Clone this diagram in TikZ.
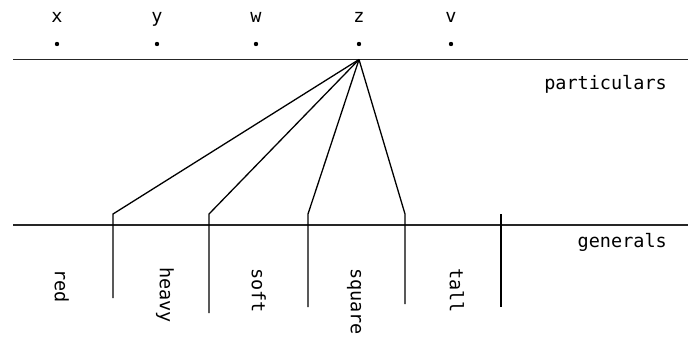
\documentclass[tikz,border=0pt]{standalone}
\usepackage{fontspec}
\setmonofont{DejaVu Sans Mono}
\begin{document}
\begin{tikzpicture}[x=1pt,y=-1pt,
  lab/.style={font=\ttfamily\fontsize{18.5}{22}\selectfont, inner sep=0pt, text=black},
  dotnode/.style={circle,fill=black,inner sep=0pt,minimum size=4.4pt},
  hline/.style={line width=1.7pt, draw=black!85},
  conn/.style={line width=1.3pt, draw=black},
  vlab/.style={lab,rotate=-90,anchor=mid west}]
\useasboundingbox (0,0) rectangle (688,338);
% particulars
\node[lab,anchor=base] (lx) at (57,22) {x};
\node[lab,anchor=base] (ly) at (157,22) {y};
\node[lab,anchor=base] (lw) at (256,22) {w};
\node[lab,anchor=base] (lz) at (359,22) {z};
\node[lab,anchor=base] (lv) at (451,22) {v};
\node[dotnode] (dx) at (57,44) {};
\node[dotnode] (dy) at (157,44) {};
\node[dotnode] (dw) at (256,44) {};
\node[dotnode] (dz) at (359,44) {};
\node[dotnode] (dv) at (451,44) {};
% lines
\coordinate (tl) at (13,59.5);
\coordinate (tr) at (688,59.5);
\coordinate (bl) at (13,225);
\coordinate (br) at (688,225);
\draw[hline] (tl) -- (tr);
\draw[hline] (bl) -- (br);
\node[lab,anchor=base east] (part) at (667,89) {particulars};
\node[lab,anchor=base east] (gen) at (667,247) {generals};
% vertex and kinks
\coordinate (vz) at (359,59.5);
\coordinate (k1) at (113,214);
\coordinate (k2) at (209,214);
\coordinate (k3) at (308,214);
\coordinate (k4) at (405,214);
\coordinate (k5) at (501,214);
\coordinate (b1) at (113,298);
\coordinate (b2) at (209,313);
\coordinate (b3) at (308,307);
\coordinate (b4) at (405,304);
\coordinate (b5) at (501,307);
\draw[conn] (vz) -- (k1) -- (b1);
\draw[conn] (vz) -- (k2) -- (b2);
\draw[conn] (vz) -- (k3) -- (b3);
\draw[conn] (vz) -- (k4) -- (b4);
\draw[conn] (k5) -- (b5);
% general labels
\node[vlab] (red) at (57,269) {red};
\node[vlab] (heavy) at (162,267) {heavy};
\node[vlab] (soft) at (254,268) {soft};
\node[vlab] (square) at (353,268) {square};
\node[vlab] (tall) at (452,268) {tall};
\end{tikzpicture}
\end{document}
